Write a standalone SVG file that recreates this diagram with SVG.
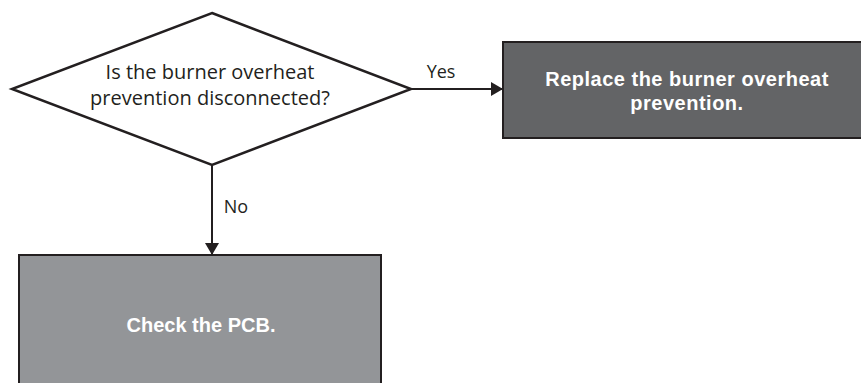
<svg xmlns="http://www.w3.org/2000/svg" width="861" height="383" viewBox="0 0 861 383">
<style>
.t{font-family:"Open Sans","Liberation Sans",sans-serif;font-size:20px;fill:#231f20}
.s{font-family:"Open Sans","Liberation Sans",sans-serif;font-size:18px;fill:#231f20}
.b{font-family:"Liberation Sans",Arial,sans-serif;font-size:20px;font-weight:bold;fill:#ffffff}
.ls{letter-spacing:0.5px}
.ln{stroke:#231f20;stroke-width:2;fill:none}
</style>
<defs>
<marker id="ah" viewBox="0 0 12 14" refX="12" refY="7" markerWidth="12" markerHeight="14" markerUnits="userSpaceOnUse" orient="auto">
<path d="M0,0 L12,7 L0,14 Z" fill="#231f20"/>
</marker>
</defs>
<g id="decision">
<polygon points="212,13 411,89 212,165 12,89" fill="#ffffff" stroke="#231f20" stroke-width="2.5"/>
<text class="t" text-anchor="middle"><tspan x="210" y="79">Is the burner overheat</tspan><tspan x="210" y="105">prevention disconnected?</tspan></text>
</g>
<g id="replace">
<rect x="503" y="42" width="362" height="96" fill="#636466" stroke="#231f20" stroke-width="2"/>
<text class="b ls" text-anchor="middle"><tspan x="687" y="86">Replace the burner overheat</tspan><tspan x="687" y="110">prevention.</tspan></text>
</g>
<g id="check">
<rect x="19" y="255" width="362" height="140" fill="#939598" stroke="#231f20" stroke-width="2"/>
<text class="b" x="201" y="332" text-anchor="middle">Check the PCB.</text>
</g>
<g id="connectors">
<line class="ln" x1="411" y1="89" x2="503" y2="89" marker-end="url(#ah)"/>
<text class="s" x="441" y="78" text-anchor="middle">Yes</text>
<line class="ln" x1="212" y1="165" x2="212" y2="255" marker-end="url(#ah)"/>
<text class="s" x="236" y="213" text-anchor="middle">No</text>
</g>
</svg>
